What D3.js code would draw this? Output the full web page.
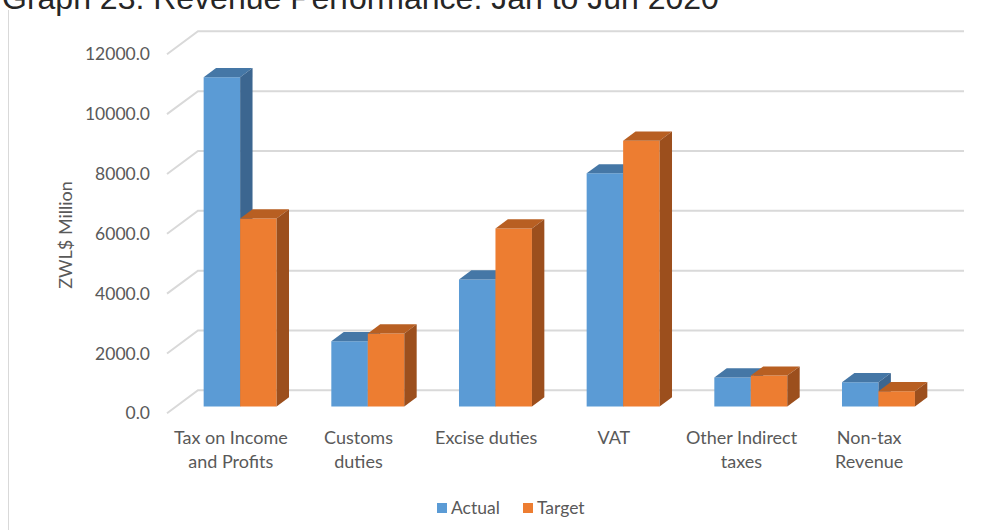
<!DOCTYPE html>
<html><head><meta charset="utf-8">
<script src="https://cdn.jsdelivr.net/npm/d3@7"></script>
<style>html,body{margin:0;padding:0;background:#fff;overflow:hidden}</style>
</head><body>
<svg id="chart" width="996" height="530"></svg>
<script>
const title = "Graph 23: Revenue Performance: Jan to Jun 2020";
const categories = ["Tax on Income and Profits","Customs duties","Excise duties","VAT","Other Indirect taxes","Non-tax Revenue"];
const categoryLines = [["Tax on Income","and Profits"],["Customs","duties"],["Excise duties"],["VAT"],["Other Indirect","taxes"],["Non-tax","Revenue"]];
const seriesNames = ["Actual","Target"];
const actual = [11000, 2180, 4240, 7790, 970, 810];
const target = [6280, 2440, 5950, 8880, 1030, 510];
const yTicks = [0, 2000, 4000, 6000, 8000, 10000, 12000];
const yTitle = "ZWL$ Million";

const svg = d3.select("#chart");
const FONT = "Lato, 'Open Sans', sans-serif";
const FS = 17.5;
const TXT = "#595959";
const front = {x0: 167, x1: 933};
const depth = {dx: 31, dy: -23};
const y = d3.scaleLinear().domain([0, 12000]).range([413.3, 54.3]);
const x0 = d3.scaleBand().domain(categories).range([front.x0, front.x1]).padding(0);
const x1 = d3.scaleBand().domain(seriesNames).range([0, x0.bandwidth()]).paddingInner(0).paddingOuter(0.75);
const colors = {
  Actual: {front: "#5b9bd5", top: "#4577a6", side: "#3c6690"},
  Target: {front: "#ed7d31", top: "#b85f22", side: "#9c4f1d"}
};

// title (partly cut off at the top, as in the reference)
svg.append("text").attr("x", 2).attr("y", 9).attr("font-family", "'Liberation Sans', Arial, sans-serif")
  .attr("font-size", 32).attr("fill", "#262626").text(title);
// left border
svg.append("line").attr("x1", 8.5).attr("x2", 8.5).attr("y1", 10).attr("y2", 530)
  .attr("stroke", "#d9d9d9").attr("stroke-width", 1);

// gridlines: side wall diagonal + back wall
const grid = svg.append("g");
yTicks.forEach(t => {
  const fy = y(t), by = fy + depth.dy;
  grid.append("path")
    .attr("d", `M${front.x0},${fy}L${front.x0 + depth.dx},${by}L${front.x1 + depth.dx},${by}`)
    .attr("fill", "none").attr("stroke", "#d9d9d9").attr("stroke-width", 2);
});

// y labels
svg.append("g").selectAll("text").data(yTicks).join("text")
  .attr("x", 150).attr("y", d => y(d)).attr("dy", "0.35em").attr("text-anchor", "end")
  .attr("font-family", FONT).attr("font-size", FS).attr("fill", TXT)
  .text(d => d3.format(".1f")(d));

svg.append("text").attr("transform", "translate(72,235) rotate(-90)")
  .attr("text-anchor", "middle").attr("font-family", FONT).attr("font-size", 18).attr("fill", TXT)
  .text(yTitle);

// bars
const fA = 0.3, fB = 0.7;
const bars = svg.append("g");
const data = [];
categories.forEach((c, i) => {
  seriesNames.forEach((s, j) => data.push({c, s, v: (j === 0 ? actual : target)[i]}));
});
data.forEach(d => {
  const xl = x0(d.c) + x1(d.s) + depth.dx * fA;
  const xr = xl + x1.bandwidth();
  const yb = y(0) + depth.dy * fA;
  const yt = y(d.v) + depth.dy * fA;
  const ddx = depth.dx * (fB - fA), ddy = depth.dy * (fB - fA);
  const col = colors[d.s];
  const g = bars.append("g");
  g.append("path").attr("d", `M${xl},${yb}L${xl},${yt}L${xr},${yt}L${xr},${yb}Z`).attr("fill", col.front);
  g.append("path").attr("d", `M${xl},${yt}L${xl+ddx},${yt+ddy}L${xr+ddx},${yt+ddy}L${xr},${yt}Z`).attr("fill", col.top);
  g.append("path").attr("d", `M${xr},${yt}L${xr+ddx},${yt+ddy}L${xr+ddx},${yb+ddy}L${xr},${yb}Z`).attr("fill", col.side);
});

// category labels
const cl = svg.append("g");
categories.forEach((c, i) => {
  const t = cl.append("text").attr("text-anchor", "middle").attr("font-family", FONT)
    .attr("font-size", 18).attr("fill", TXT);
  categoryLines[i].forEach((line, k) => {
    t.append("tspan").attr("x", x0(c) + x0.bandwidth() / 2).attr("y", 444 + k * 24).text(line);
  });
});

// legend
const legX = [437, 523];
const lg = svg.append("g");
seriesNames.forEach((s, i) => {
  lg.append("rect").attr("x", legX[i]).attr("y", 503).attr("width", 10).attr("height", 10).attr("fill", colors[s].front);
  lg.append("text").attr("x", legX[i] + 14).attr("y", 508).attr("dy", "0.35em")
    .attr("font-family", FONT).attr("font-size", FS).attr("fill", TXT).text(s);
});
</script>
</body></html>
